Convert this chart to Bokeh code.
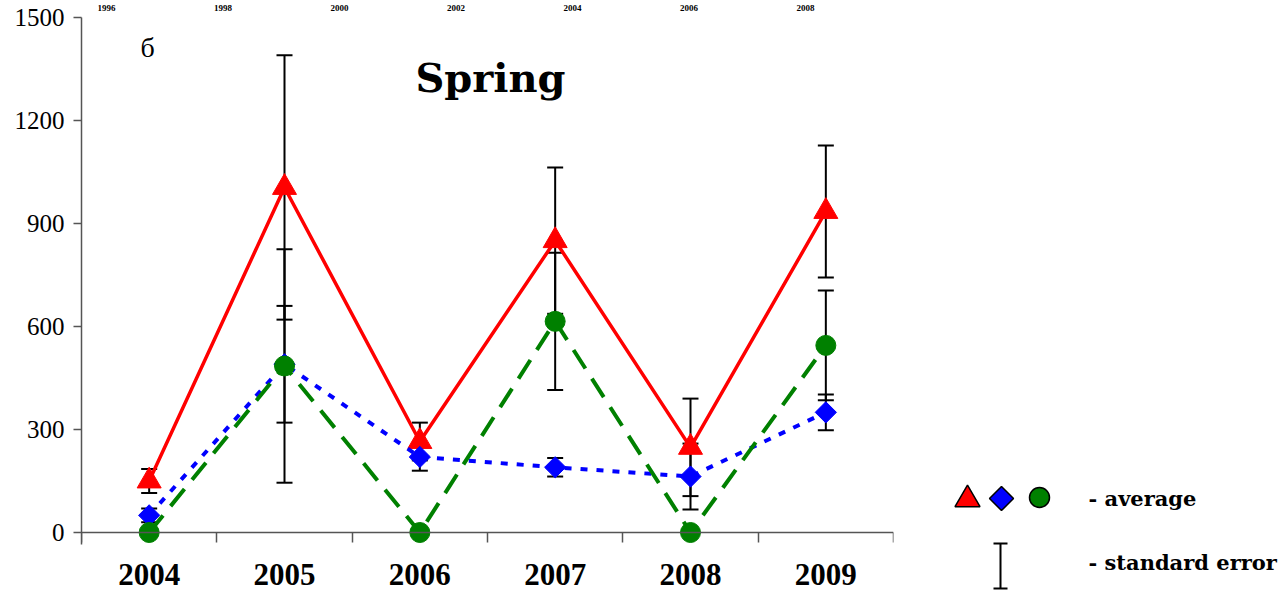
import math
from bokeh.plotting import figure
from bokeh.models import (Range1d, FixedTicker, Whisker, ColumnDataSource, TeeHead, Label,
                          LinearAxis)
from bokeh.layouts import row
from bokeh.embed import file_html
from bokeh.resources import INLINE

# ---- data ----
years = ["2004", "2005", "2006", "2007", "2008", "2009"]
red_avg = [150, 1005, 265, 850, 248, 935]
red_se = [35, 385, 55, 213, 142, 192]
blue_avg = [50, 490, 220, 190, 163, 350]
blue_se = [20, 170, 40, 27, 96, 52]
green_avg = [0, 485, 0, 615, 0, 545]
green_se = [0, 340, 0, 200, 0, 160]
y_ticks = [0, 300, 600, 900, 1200, 1500]
top_labels = ["1996", "1998", "2000", "2002", "2004", "2006", "2008"]
title_text = "Spring"
panel_letter = "б"
legend_avg = "- average"
legend_se = "- standard error"

RED, BLUE, GREEN = "#FF0000", "#0000FF", "#008000"
AXIS_COL = "#555555"

xs = [i + 0.5 for i in range(len(years))]
PX_X = len(years) / 812.0     # data units per pixel (x)
PX_Y = 1500 / 515.0           # data units per pixel (y)

# frame runs 17..544 px; value 0 sits at 532 px so zero markers are not cut
p = figure(width=900, height=599, output_backend="svg", toolbar_location=None,
           x_range=Range1d(0, len(years)), y_range=Range1d(-12 * PX_Y, 1500),
           min_border_left=81, min_border_right=7, min_border_top=17, min_border_bottom=55)
p.frame_align = False
p.outline_line_color = None
p.grid.visible = False
p.background_fill_color = "white"
p.border_fill_color = "white"

# x axis line pinned at y = 0 with boundary ticks (no labels)
p.xaxis.fixed_location = 0
p.xaxis.ticker = FixedTicker(ticks=xs, minor_ticks=list(range(len(years) + 1)))
p.xaxis.major_label_overrides = {x: "" for x in xs}
p.xaxis.major_tick_out = 0
p.xaxis.major_tick_in = 0
p.xaxis.minor_tick_out = 10
p.xaxis.minor_tick_in = 0
p.xaxis.minor_tick_line_color = AXIS_COL
p.xaxis.minor_tick_line_width = 1.5
p.xaxis.axis_line_color = AXIS_COL
p.xaxis.axis_line_width = 1.5

# category labels on a bare axis below the frame
label_axis = LinearAxis(ticker=FixedTicker(ticks=xs),
                        major_label_overrides={x: y for x, y in zip(xs, years)},
                        axis_line_color=None, major_tick_line_color=None, minor_tick_line_color=None,
                        major_tick_out=0, major_tick_in=0, minor_tick_out=0, minor_tick_in=0,
                        major_label_standoff=19, major_label_text_font="Liberation Serif",
                        major_label_text_font_style="bold", major_label_text_font_size="31px",
                        major_label_text_color="black")
p.add_layout(label_axis, "below")

p.yaxis.ticker = FixedTicker(ticks=y_ticks)
p.yaxis.major_tick_out = 8
p.yaxis.major_tick_in = 0
p.yaxis.minor_tick_out = 0
p.yaxis.minor_tick_in = 0
p.yaxis.major_tick_line_color = AXIS_COL
p.yaxis.major_tick_line_width = 1.5
p.yaxis.axis_line_color = AXIS_COL
p.yaxis.axis_line_width = 1.5
p.yaxis.major_label_text_font = "Liberation Serif"
p.yaxis.major_label_text_font_size = "25px"
p.yaxis.major_label_text_color = "black"
p.yaxis.major_label_standoff = 9

# stray year labels cut at the very top of the reference (drawn as a bare axis above)
top_pos = [round((106 + 116.5 * i - 81) * PX_X, 4) for i in range(len(top_labels))]
top_axis = LinearAxis(ticker=FixedTicker(ticks=top_pos),
                      major_label_overrides={x: t for x, t in zip(top_pos, top_labels)},
                      axis_line_color=None, major_tick_line_color=None, minor_tick_line_color=None,
                      major_tick_out=0, major_tick_in=0, minor_tick_out=0, minor_tick_in=0,
                      major_label_standoff=7, major_label_text_font="Liberation Serif",
                      major_label_text_font_style="bold", major_label_text_font_size="9px",
                      major_label_text_color="black")
p.add_layout(top_axis, "above")

# error bars
def add_whisker(avg, se):
    bx = [x for x, s in zip(xs, se) if s > 0]
    up = [a + s for a, s in zip(avg, se) if s > 0]
    lo = [a - s for a, s in zip(avg, se) if s > 0]
    src = ColumnDataSource(dict(base=bx, upper=up, lower=lo))
    w = Whisker(base="base", upper="upper", lower="lower", source=src,
                line_color="black", line_width=2,
                upper_head=TeeHead(size=16, line_color="black", line_width=2),
                lower_head=TeeHead(size=16, line_color="black", line_width=2))
    p.add_layout(w)

add_whisker(red_avg, red_se)
add_whisker(blue_avg, blue_se)
add_whisker(green_avg, green_se)

# series
p.line(xs, red_avg, line_color=RED, line_width=3.5)
p.scatter(xs, red_avg, marker="triangle", size=24, fill_color=RED, line_color=RED)
p.line(xs, blue_avg, line_color=BLUE, line_width=4, line_dash="7 9")
p.scatter(xs, blue_avg, marker="square", angle=math.pi / 4, size=15, fill_color=BLUE, line_color=BLUE)
p.line(xs, green_avg, line_color=GREEN, line_width=4, line_dash="22 12")
p.scatter(xs, green_avg, marker="circle", size=20, fill_color=GREEN, line_color=GREEN)

# texts inside plot (positions given in pixels, converted to data units)
p.add_layout(Label(x=(490 - 81) * PX_X, y=(532 - 77) * PX_Y, text=title_text,
                   text_font="DejaVu Serif", text_font_style="bold", text_font_size="40px",
                   text_align="center", text_baseline="alphabetic", text_color="black"))
p.add_layout(Label(x=(147 - 81) * PX_X, y=(532 - 47) * PX_Y, text=panel_letter,
                   text_font="Liberation Serif", text_font_size="28px",
                   text_align="center", text_baseline="alphabetic", text_color="black"))

# legend panel (full-height frame; y data = screen px from the top)
lg = figure(width=387, height=599, output_backend="svg", toolbar_location=None,
            x_range=Range1d(900, 1287), y_range=Range1d(599, 0),
            min_border_left=0, min_border_right=0, min_border_top=0, min_border_bottom=0)
lg.frame_align = False
lg.axis.visible = False
lg.grid.visible = False
lg.outline_line_color = None
lg.scatter([967], [499], marker="triangle", size=25, fill_color=RED, line_color="black", line_width=1.5)
lg.scatter([1001], [498], marker="square", angle=math.pi / 4, size=17, fill_color=BLUE, line_color="black", line_width=1.5)
lg.scatter([1039], [497], marker="circle", size=20, fill_color=GREEN, line_color="black", line_width=1.5)
lg.segment([1000, 993, 993], [543, 543, 588], [1000, 1007, 1007], [588, 543, 588],
           line_color="black", line_width=2)
lg.text([1088], [498], text=[legend_avg], text_font={"value": "DejaVu Serif"}, text_font_style="bold",
        text_font_size="21px", text_baseline="middle", text_align="left", text_color="black")
lg.text([1088], [562], text=[legend_se], text_font={"value": "DejaVu Serif"}, text_font_style="bold",
        text_font_size="21px", text_baseline="middle", text_align="left", text_color="black")

layout = row(p, lg, spacing=0)
open("out.html", "w").write(file_html(layout, INLINE))
